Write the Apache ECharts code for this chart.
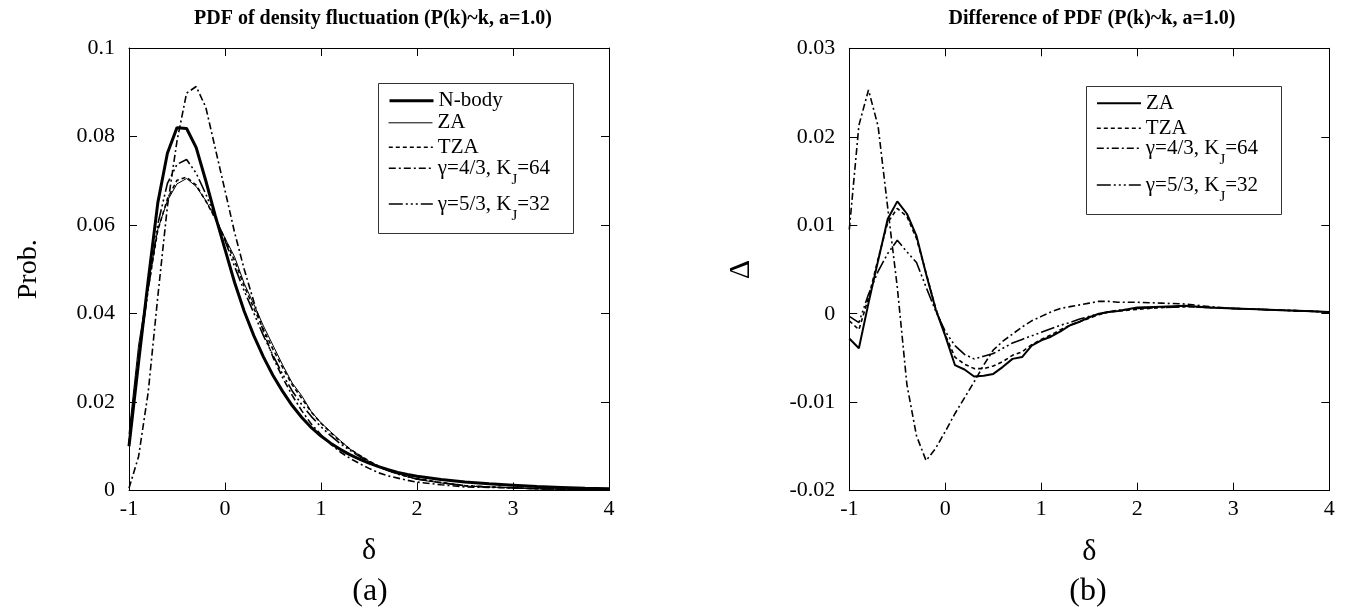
<!DOCTYPE html>
<html>
<head>
<meta charset="utf-8">
<script src="https://cdn.jsdelivr.net/npm/echarts@6/dist/echarts.min.js"></script>
<style>
  html, body { margin: 0; padding: 0; background: #fff; }
  #chart { width: 1347px; height: 613px; }
</style>
</head>
<body>
<div id="chart"></div>
<script>
// Density contrast samples shared by every curve
const deltaX = [-1.0, -0.9, -0.8, -0.7, -0.6, -0.5, -0.4, -0.3, -0.2, -0.1,
  0.0, 0.1, 0.2, 0.3, 0.4, 0.5, 0.6, 0.7, 0.8, 0.9,
  1.0, 1.1, 1.2, 1.3, 1.4, 1.5, 1.6, 1.7, 1.8, 1.9,
  2.0, 2.25, 2.5, 2.75, 3.0, 3.25, 3.5, 3.75, 4.0];

// (a) probability distribution of the density contrast
const pdfNbody = [0.0100, 0.0290, 0.0475, 0.0650, 0.0762, 0.0820, 0.0818, 0.0775, 0.0700, 0.0620,
  0.0545, 0.0470, 0.0405, 0.0350, 0.0302, 0.0260, 0.0224, 0.0192, 0.0165, 0.0142,
  0.0123, 0.0107, 0.0093, 0.0081, 0.0071, 0.0062, 0.0054, 0.0047, 0.0041, 0.0036,
  0.0032, 0.0025, 0.0019, 0.0015, 0.0012, 0.0009, 0.0007, 0.0005, 0.0004];
const pdfZA = [0.0128, 0.0329, 0.0463, 0.0590, 0.0655, 0.0693, 0.0705, 0.0687, 0.0655, 0.0615,
  0.0570, 0.0528, 0.0468, 0.0421, 0.0372, 0.0328, 0.0284, 0.0243, 0.0214, 0.0178,
  0.0153, 0.0133, 0.0113, 0.0094, 0.0080, 0.0066, 0.0054, 0.0045, 0.0038, 0.0031,
  0.0025, 0.0017, 0.0010, 0.0008, 0.0006, 0.0004, 0.0003, 0.0002, 0.0002];
const pdfTZA = [0.0108, 0.0308, 0.0457, 0.0588, 0.0659, 0.0701, 0.0708, 0.0690, 0.0654, 0.0614,
  0.0569, 0.0519, 0.0462, 0.0412, 0.0364, 0.0319, 0.0278, 0.0239, 0.0208, 0.0177,
  0.0152, 0.0131, 0.0111, 0.0094, 0.0080, 0.0067, 0.0055, 0.0045, 0.0038, 0.0032,
  0.0027, 0.0018, 0.0011, 0.0008, 0.0006, 0.0004, 0.0003, 0.0002, 0.0002];
const pdfG43 = [0.0005, 0.0077, 0.0222, 0.0438, 0.0642, 0.0790, 0.0898, 0.0913, 0.0866, 0.0772,
  0.0678, 0.0583, 0.0500, 0.0427, 0.0360, 0.0301, 0.0255, 0.0215, 0.0180, 0.0150,
  0.0126, 0.0105, 0.0087, 0.0073, 0.0061, 0.0050, 0.0040, 0.0033, 0.0028, 0.0023,
  0.0019, 0.0013, 0.0008, 0.0007, 0.0006, 0.0004, 0.0003, 0.0002, 0.0002];
const pdfG53 = [0.0103, 0.0300, 0.0453, 0.0602, 0.0694, 0.0737, 0.0748, 0.0717, 0.0670, 0.0617,
  0.0565, 0.0506, 0.0451, 0.0401, 0.0350, 0.0305, 0.0263, 0.0225, 0.0194, 0.0167,
  0.0144, 0.0124, 0.0106, 0.0091, 0.0077, 0.0065, 0.0054, 0.0045, 0.0037, 0.0031,
  0.0026, 0.0018, 0.0011, 0.0008, 0.0006, 0.0004, 0.0003, 0.0002, 0.0002];

// (b) difference from the N-body distribution
const diffZA = [-0.0028, -0.0039, 0.0012, 0.0060, 0.0107, 0.0127, 0.0113, 0.0088, 0.0045, 0.0005,
  -0.0025, -0.0058, -0.0063, -0.0071, -0.0070, -0.0068, -0.0060, -0.0051, -0.0049, -0.0036,
  -0.0030, -0.0026, -0.0020, -0.0013, -0.0009, -0.0004, 0.0000, 0.0002, 0.0003, 0.0005,
  0.0007, 0.0008, 0.0009, 0.0007, 0.0006, 0.0005, 0.0004, 0.0003, 0.0002];
const diffTZA = [-0.0008, -0.0018, 0.0018, 0.0062, 0.0103, 0.0119, 0.0110, 0.0085, 0.0046, 0.0006,
  -0.0024, -0.0049, -0.0057, -0.0062, -0.0062, -0.0059, -0.0054, -0.0047, -0.0043, -0.0035,
  -0.0029, -0.0024, -0.0018, -0.0013, -0.0009, -0.0005, -0.0001, 0.0002, 0.0003, 0.0004,
  0.0005, 0.0007, 0.0008, 0.0007, 0.0006, 0.0005, 0.0004, 0.0003, 0.0002];
const diffG43 = [0.0095, 0.0213, 0.0253, 0.0212, 0.0120, 0.0030, -0.0080, -0.0138, -0.0166, -0.0152,
  -0.0133, -0.0113, -0.0095, -0.0077, -0.0058, -0.0041, -0.0031, -0.0023, -0.0015, -0.0008,
  -0.0003, 0.0002, 0.0006, 0.0008, 0.0010, 0.0012, 0.0014, 0.0014, 0.0013, 0.0013,
  0.0013, 0.0012, 0.0011, 0.0008, 0.0006, 0.0005, 0.0004, 0.0003, 0.0002];
const diffG53 = [-0.0003, -0.0010, 0.0022, 0.0048, 0.0068, 0.0083, 0.0070, 0.0058, 0.0030, 0.0003,
  -0.0020, -0.0036, -0.0046, -0.0051, -0.0048, -0.0045, -0.0039, -0.0033, -0.0029, -0.0025,
  -0.0021, -0.0017, -0.0013, -0.0010, -0.0006, -0.0003, 0.0000, 0.0002, 0.0004, 0.0005,
  0.0006, 0.0007, 0.0008, 0.0007, 0.0006, 0.0005, 0.0004, 0.0003, 0.0002];

// Tick labels
const xTickLabels = ['-1', '0', '1', '2', '3', '4'];
const probTickLabels = ['0', '0.02', '0.04', '0.06', '0.08', '0.1'];
const diffTickLabels = ['-0.02', '-0.01', '0', '0.01', '0.02', '0.03'];

const FONT = '"Liberation Serif", "Times New Roman", Times, serif';
const INK = '#000';

const toPoints = ys => deltaX.map((x, i) => [x, ys[i]]);

// Line patterns for the models
const DASH_TZA = [4, 3];
const DASH_G43 = [7, 3, 2, 3];
const DASH_G53 = [14, 3, 2, 3, 2, 3, 2, 3];

// Stroke of every curve, reused by its legend sample
const strokes = {
  'a-nbody': { type: 'solid', width: 3 },
  'a-za': { type: 'solid', width: 1 },
  'a-tza': { type: DASH_TZA, width: 1.6 },
  'a-g43': { type: DASH_G43, width: 1.6 },
  'a-g53': { type: DASH_G53, width: 1.6 },
  'b-za': { type: 'solid', width: 2 },
  'b-tza': { type: DASH_TZA, width: 1.6 },
  'b-g43': { type: DASH_G43, width: 1.6 },
  'b-g53': { type: DASH_G53, width: 1.6 }
};

// Shared axis styling: closed frame with inward ticks
function xAxisPair(gridIndex) {
  const base = {
    type: 'value', gridIndex, min: -1, max: 4, interval: 1,
    axisLine: { show: true, onZero: false, lineStyle: { color: INK, width: 1 } },
    axisTick: { show: true, inside: true, length: 8, lineStyle: { color: INK, width: 1 } },
    splitLine: { show: false }
  };
  return [
    Object.assign({}, base, {
      position: 'bottom',
      name: 'δ', nameLocation: 'middle', nameGap: 46,
      nameTextStyle: { fontFamily: FONT, fontSize: 30, color: INK },
      axisLabel: {
        show: true, margin: 8, color: INK, fontFamily: FONT, fontSize: 22,
        formatter: (v, i) => xTickLabels[i]
      }
    }),
    Object.assign({}, base, { position: 'top', axisLabel: { show: false } })
  ];
}

function yAxisPair(gridIndex, min, max, labels, name, nameGap, nameSize) {
  const base = {
    type: 'value', gridIndex, min, max, interval: 0.01 * (gridIndex === 0 ? 2 : 1),
    axisLine: { show: true, onZero: false, lineStyle: { color: INK, width: 1 } },
    axisTick: { show: true, inside: true, length: 8, lineStyle: { color: INK, width: 1 } },
    splitLine: { show: false }
  };
  return [
    Object.assign({}, base, {
      position: 'left',
      name, nameLocation: 'middle', nameGap, nameRotate: 90,
      nameTextStyle: { fontFamily: FONT, fontSize: nameSize, color: INK },
      axisLabel: {
        show: true, margin: 14, color: INK, fontFamily: FONT, fontSize: 22,
        formatter: (v, i) => labels[i]
      }
    }),
    Object.assign({}, base, { position: 'right', axisLabel: { show: false } })
  ];
}

function curve(name, ys, xi, yi) {
  const s = strokes[name];
  return {
    name, type: 'line', xAxisIndex: xi, yAxisIndex: yi,
    data: toPoints(ys), symbol: 'none', smooth: false, silent: true,
    lineStyle: { color: INK, width: s.width, type: s.type },
    itemStyle: { color: INK },
    z: 3
  };
}

// Display text for every legend entry
const legendText = {
  'a-nbody': 'N-body', 'a-za': 'ZA', 'a-tza': 'TZA',
  'a-g43': '{t|γ=4/3, K}{s|J}{t|=64}', 'a-g53': '{t|γ=5/3, K}{s|J}{t|=32}',
  'b-za': 'ZA', 'b-tza': 'TZA',
  'b-g43': '{t|γ=4/3, K}{s|J}{t|=64}', 'b-g53': '{t|γ=5/3, K}{s|J}{t|=32}'
};

// One legend per row so every row sits at its own height
const SUB_LINE = 39;
function legendRow(name, left, centerY, withSub) {
  const rowH = withSub ? SUB_LINE : 22;
  const s = strokes[name];
  return {
    show: true, orient: 'vertical', left, top: centerY - rowH / 2,
    padding: 0, itemWidth: 44, itemHeight: 14, selectedMode: false,
    data: [{ name }],
    formatter: n => legendText[n],
    itemStyle: { color: 'rgba(0,0,0,0)', borderColor: 'rgba(0,0,0,0)', borderWidth: 0 },
    lineStyle: { color: INK, width: s.width, type: s.type },
    textStyle: withSub ? {
      color: INK, fontFamily: FONT, fontSize: 21, lineHeight: SUB_LINE,
      rich: {
        t: { color: INK, fontFamily: FONT, fontSize: 21, lineHeight: SUB_LINE, verticalAlign: 'middle' },
        s: { color: INK, fontFamily: FONT, fontSize: 15, lineHeight: SUB_LINE, verticalAlign: 'bottom' }
      }
    } : { color: INK, fontFamily: FONT, fontSize: 21, lineHeight: 22 }
  };
}

const chart = echarts.init(document.getElementById('chart'), null, { renderer: 'canvas' });

chart.setOption({
  backgroundColor: '#fff',
  animation: false,
  grid: [
    { left: 129, top: 48, width: 480, height: 442.5, containLabel: false },
    { left: 849.3, top: 48.3, width: 480, height: 442.4, containLabel: false }
  ],
  xAxis: [...xAxisPair(0), ...xAxisPair(1)],
  yAxis: [
    ...yAxisPair(0, 0, 0.1, probTickLabels, 'Prob.', 86, 28),
    ...yAxisPair(1, -0.02, 0.03, diffTickLabels, 'Δ', 93, 30)
  ],
  legend: [
    legendRow('a-nbody', 388, 100.7, false),
    legendRow('a-za', 388, 122.8, false),
    legendRow('a-tza', 388, 147.3, false),
    legendRow('a-g43', 388, 168.3, true),
    legendRow('a-g53', 388, 204, true),
    legendRow('b-za', 1096, 103.3, false),
    legendRow('b-tza', 1096, 128.3, false),
    legendRow('b-g43', 1096, 148.3, true),
    legendRow('b-g53', 1096, 185, true)
  ],
  series: [
    curve('a-nbody', pdfNbody, 0, 0),
    curve('a-za', pdfZA, 0, 0),
    curve('a-tza', pdfTZA, 0, 0),
    curve('a-g43', pdfG43, 0, 0),
    curve('a-g53', pdfG53, 0, 0),
    curve('b-za', diffZA, 2, 2),
    curve('b-tza', diffTZA, 2, 2),
    curve('b-g43', diffG43, 2, 2),
    curve('b-g53', diffG53, 2, 2)
  ],
  graphic: [
    // panel titles
    { type: 'text', silent: true, style: { text: 'PDF of density fluctuation (P(k)~k, a=1.0)', x: 373, y: 19,
      align: 'center', verticalAlign: 'middle', fill: INK,
      font: 'bold 20px ' + FONT } },
    { type: 'text', silent: true, style: { text: 'Difference of PDF (P(k)~k, a=1.0)', x: 1092, y: 19,
      align: 'center', verticalAlign: 'middle', fill: INK,
      font: 'bold 20px ' + FONT } },
    // panel tags
    { type: 'text', silent: true, style: { text: '(a)', x: 370, y: 592, align: 'center', verticalAlign: 'middle',
      fill: INK, font: '32px ' + FONT } },
    { type: 'text', silent: true, style: { text: '(b)', x: 1088, y: 592, align: 'center', verticalAlign: 'middle',
      fill: INK, font: '32px ' + FONT } },
    // legend frames
    { type: 'rect', silent: true, z: 1, shape: { x: 378.5, y: 83.5, width: 195, height: 150 },
      style: { fill: 'none', stroke: '#333', lineWidth: 1 } },
    { type: 'rect', silent: true, z: 1, shape: { x: 1086.5, y: 86.5, width: 195, height: 128 },
      style: { fill: 'none', stroke: '#333', lineWidth: 1 } }
  ]
});
</script>
</body>
</html>
